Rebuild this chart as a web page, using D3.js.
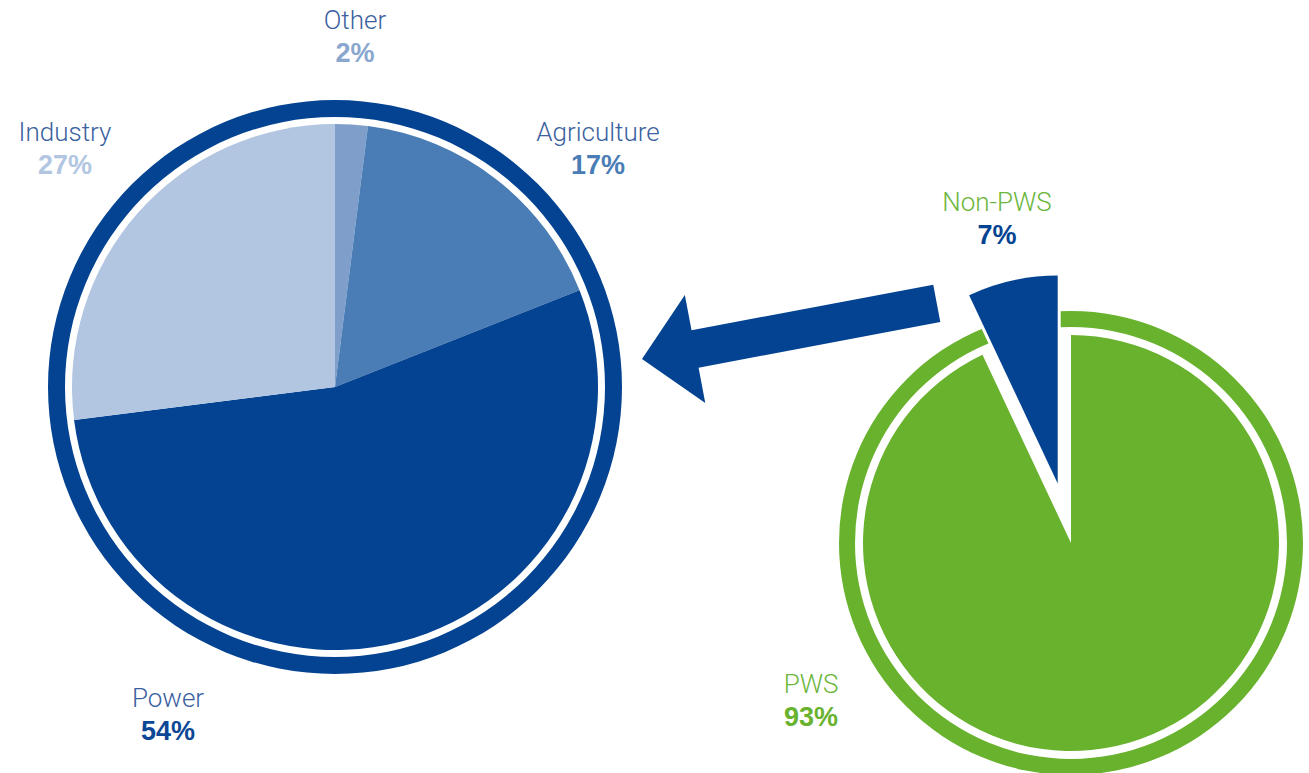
<!DOCTYPE html>
<html>
<head>
<meta charset="utf-8">
<script src="https://cdn.jsdelivr.net/npm/d3@7"></script>
<style>
  body { margin: 0; background: #fff; }
  .name { font-family: Roboto, "Liberation Sans", sans-serif; font-weight: 300; font-size: 26px; }
  .pct { font-family: "Liberation Sans", Arial, sans-serif; font-weight: bold; font-size: 27px; }
</style>
</head>
<body>
<div id="chart"></div>
<script>
/* Water use split: all sectors (left) and PWS share (right) */
const useLabels = ["Other", "Agriculture", "Power", "Industry"];
const useValues = [2, 17, 54, 27];
const useColors = ["#7f9fca", "#4a7db5", "#034391", "#b2c6e2"];
const useNameColors = ["#3b61a0", "#3b61a0", "#3b61a0", "#3b61a0"];
const usePctColors = ["#8aa7cf", "#4a7db5", "#0b4795", "#b2c6e2"];

const pwsLabels = ["PWS", "Non-PWS"];
const pwsValues = [93, 7];
const pwsColors = ["#68b22e", "#034391"];
const pwsNameColors = ["#6cb63c", "#6cb63c"];
const pwsPctColors = ["#68b22e", "#034391"];

const width = 1309, height = 773;

const svg = d3.select("#chart")
    .append("svg")
    .attr("width", width)
    .attr("height", height);

/* ---- left pie ---- */
const left = { cx: 335, cy: 387, r: 263, ringIn: 270, ringOut: 287 };

const pie = d3.pie().sort(null).value(d => d.value);

const useData = useLabels.map((l, i) => ({ label: l, value: useValues[i], i: i }));

const gl = svg.append("g").attr("transform", `translate(${left.cx},${left.cy})`);

gl.append("path")
    .attr("d", d3.arc().innerRadius(left.ringIn).outerRadius(left.ringOut)({ startAngle: 0, endAngle: 2 * Math.PI }))
    .attr("fill", "#034391");

gl.selectAll(".slice")
    .data(pie(useData))
    .join("path")
    .attr("class", "slice")
    .attr("d", d3.arc().innerRadius(0).outerRadius(left.r))
    .attr("fill", d => useColors[d.data.i]);

// label anchor points (relative to page)
const useLabelPos = [[355, 29], [598, 141], [168, 707], [65, 141]];

const ll = svg.selectAll(".uselabel")
    .data(useData)
    .join("g")
    .attr("class", "uselabel")
    .attr("transform", d => `translate(${useLabelPos[d.i][0]},${useLabelPos[d.i][1]})`);

ll.append("text")
    .attr("class", "name")
    .attr("text-anchor", "middle")
    .attr("fill", d => useNameColors[d.i])
    .text(d => d.label);

ll.append("text")
    .attr("class", "pct")
    .attr("text-anchor", "middle")
    .attr("y", 33)
    .attr("fill", d => usePctColors[d.i])
    .text(d => d.value + "%");

/* ---- right pie ---- */
const right = { cx: 1071, cy: 543, r: 208, ringIn: 216, ringOut: 232, explode: 61 };

const pwsData = pwsLabels.map((l, i) => ({ label: l, value: pwsValues[i], i: i }));
const pwsArcs = pie(pwsData);

const gr = svg.append("g").attr("transform", `translate(${right.cx},${right.cy})`);

gr.append("path")
    .attr("d", d3.arc().innerRadius(right.ringIn).outerRadius(right.ringOut)({ startAngle: 0, endAngle: 2 * Math.PI }))
    .attr("fill", "#68b22e");

const arcR = d3.arc().innerRadius(0).outerRadius(right.r);

function offset(d) {
    if (d.data.i === 0) return [0, 0];
    const mid = (d.startAngle + d.endAngle) / 2;
    return [Math.sin(mid) * right.explode, -Math.cos(mid) * right.explode];
}

const rs = gr.selectAll(".rslice")
    .data(pwsArcs)
    .join("g")
    .attr("class", "rslice")
    .attr("transform", d => `translate(${offset(d)})`);

// white halo behind the exploded slice
rs.filter(d => d.data.i === 1)
    .append("path")
    .attr("d", arcR)
    .attr("fill", "#fff")
    .attr("stroke", "#fff")
    .attr("stroke-width", 6)
    .attr("stroke-linejoin", "miter");

rs.append("path")
    .attr("d", arcR)
    .attr("fill", d => pwsColors[d.data.i]);

const pwsLabelPos = [[811, 693], [997, 211]];

const rl = svg.selectAll(".pwslabel")
    .data(pwsData)
    .join("g")
    .attr("class", "pwslabel")
    .attr("transform", d => `translate(${pwsLabelPos[d.i][0]},${pwsLabelPos[d.i][1]})`);

rl.append("text")
    .attr("class", "name")
    .attr("text-anchor", "middle")
    .attr("fill", d => pwsNameColors[d.i])
    .text(d => d.label);

rl.append("text")
    .attr("class", "pct")
    .attr("text-anchor", "middle")
    .attr("y", 33)
    .attr("fill", d => pwsPctColors[d.i])
    .text(d => d.value + "%");

/* ---- arrow from the Non-PWS slice to the left pie ---- */
const arrow = { x: 642, y: 359, len: 300, shaft: 19, head: 55, headLen: 54, angle: -10.7 };

svg.append("path")
    .attr("transform", `translate(${arrow.x},${arrow.y}) rotate(${arrow.angle})`)
    .attr("d", d3.line()([
        [0, 0], [arrow.headLen, -arrow.head], [arrow.headLen, -arrow.shaft],
        [arrow.len, -arrow.shaft], [arrow.len, arrow.shaft],
        [arrow.headLen, arrow.shaft], [arrow.headLen, arrow.head]
    ]) + "Z")
    .attr("fill", "#034391");
</script>
</body>
</html>
